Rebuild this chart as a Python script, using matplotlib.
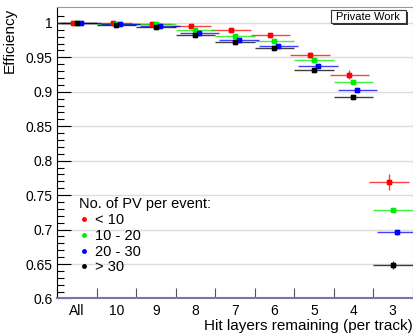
import matplotlib
matplotlib.use("Agg")
import matplotlib.pyplot as plt
from matplotlib.lines import Line2D
from matplotlib.patches import Rectangle
import numpy as np

plt.rcParams['font.family'] = ['Liberation Sans', 'DejaVu Sans']

categories = ['All', '10', '9', '8', '7', '6', '5', '4', '3']
series_names = ['< 10', '10 - 20', '20 - 30', '> 30']
eff_lt10 = [1.0, 0.9995, 0.998, 0.996, 0.989, 0.9817, 0.9535, 0.925, 0.7695]
eff_10_20 = [1.0, 0.999, 0.9977, 0.9894, 0.981, 0.973, 0.946, 0.914, 0.729]
eff_20_30 = [1.0, 0.9977, 0.9957, 0.986, 0.975, 0.967, 0.938, 0.9026, 0.6958]
eff_gt30 = [1.0, 0.9962, 0.9933, 0.982, 0.9715, 0.963, 0.932, 0.8925, 0.6488]
err_lt10 = [0.0, 0.0005, 0.0008, 0.0015, 0.002, 0.0025, 0.004, 0.0065, 0.0116]
err_10_20 = [0.0, 0.0004, 0.0006, 0.001, 0.0012, 0.0015, 0.002, 0.003, 0.002]
err_20_30 = [0.0, 0.0004, 0.0006, 0.001, 0.0012, 0.0015, 0.002, 0.003, 0.003]
err_gt30 = [0.0, 0.0004, 0.0006, 0.001, 0.0012, 0.0015, 0.002, 0.003, 0.006]

series = [eff_lt10, eff_10_20, eff_20_30, eff_gt30]
errors = [err_lt10, err_10_20, err_20_30, err_gt30]
colors = ['#ff0000', '#00ee00', '#0000ff', '#000000']
offsets = [-0.1, 0.0, 0.1, 0.0]

fig = plt.figure(figsize=(4.14, 3.34), dpi=100)
ax = fig.add_axes([0.1384, 0.1063, 0.858, 0.8717])

x = np.arange(len(categories)) + 0.5
for vals, errs, c, off in zip(series, errors, colors, offsets):
    ax.errorbar(x + off, vals, xerr=0.5, yerr=errs, fmt='s', color=c,
                ms=3, ecolor=c, elinewidth=1.0, capsize=0, alpha=0.75,
                zorder=3)
    ax.plot(x + off, vals, 's', color=c, ms=3, zorder=4)

ax.set_xlim(0, len(categories))
ax.set_ylim(0.6, 1.0225)

ax.set_yticks(np.arange(0.6, 1.001, 0.05))
ax.set_yticklabels(['0.6', '0.65', '0.7', '0.75', '0.8', '0.85', '0.9', '0.95', '1'])
ax.set_yticks(np.arange(0.6, 1.02, 0.01), minor=True)
ax.tick_params(axis='y', which='major', length=10, width=0.8, direction='in', labelsize=10)
ax.tick_params(axis='y', which='minor', length=5, width=0.8, direction='in')
ax.grid(axis='y', which='major', color='#dddddd', linewidth=1.0)
ax.set_axisbelow(True)

ax.set_xticks(np.arange(0, len(categories) + 1))
ax.set_xticklabels([])
ax.set_xticks(x, minor=True)
ax.set_xticklabels(categories, minor=True)
ax.tick_params(axis='x', which='major', length=7, width=0.8, direction='in', color='#555555')
ax.tick_params(axis='x', which='minor', length=0, labelsize=10, pad=4)

for s in ['top', 'right']:
    ax.spines[s].set_color('#999999')
ax.spines['bottom'].set_color('#7878a8')
ax.spines['bottom'].set_linewidth(1.5)

ax.set_ylabel('Efficiency', fontsize=11, loc='top', labelpad=6)
ax.set_xlabel('Hit layers remaining (per track)', fontsize=11, loc='right', labelpad=1)

handles = [Line2D([], [], marker='o', ls='none', color=c, ms=2.5) for c in colors]
leg = ax.legend(handles, series_names, title='No. of PV per event:', frameon=False,
                loc='upper left', bbox_to_anchor=(0.031, 0.382), fontsize=10.5,
                title_fontsize=10.5, handlelength=0.8, handletextpad=0.3,
                labelspacing=0.12, alignment='left', borderpad=0.2)

# Private Work box with shadow (figure pixel coordinates)
W, H = 414, 334
bx0, by0, bx1, by1 = 330.7, 10.3, 406.0, 22.7
fig.patches.append(Rectangle(((bx0 + 2) / W, 1 - (by1 + 2) / H), (bx1 - bx0) / W, (by1 - by0) / H,
                             transform=fig.transFigure, facecolor='#333333', edgecolor='none', zorder=5))
fig.patches.append(Rectangle((bx0 / W, 1 - by1 / H), (bx1 - bx0) / W, (by1 - by0) / H,
                             transform=fig.transFigure, facecolor='white', edgecolor='#333333',
                             linewidth=0.8, zorder=6))
fig.text((bx0 + bx1) / 2 / W, 1 - (by0 + by1) / 2 / H, 'Private Work', ha='center', va='center',
         fontsize=8, zorder=7)

fig.savefig('out.png', dpi=100)
